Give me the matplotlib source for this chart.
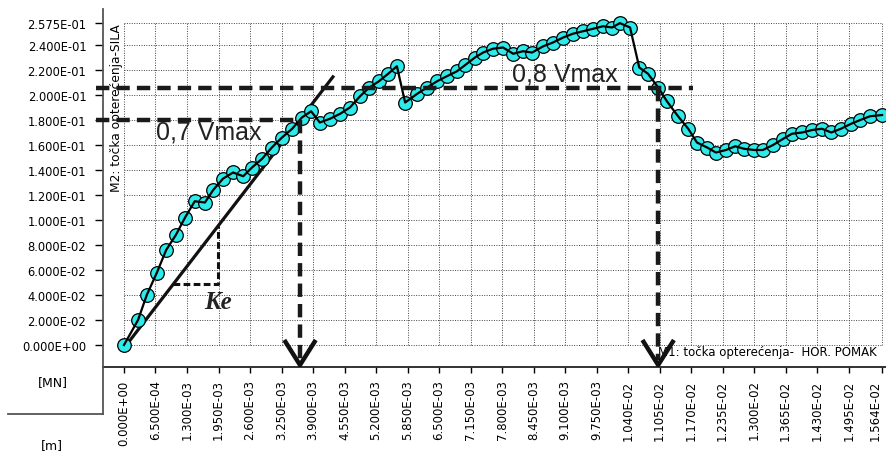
import numpy as np
import matplotlib
matplotlib.use('Agg')
import matplotlib.pyplot as plt
from matplotlib.lines import Line2D

# horizontalni pomak [m] i sila [MN], ocitano s dijagrama
pomak = [0.0, 0.00029, 0.00047, 0.00068, 0.00087, 0.00107, 0.00126, 0.00146,
         0.00167, 0.00184, 0.00204, 0.00225, 0.00246, 0.00264, 0.00285, 0.00305,
         0.00326, 0.00347, 0.00367, 0.00386, 0.00404, 0.00425, 0.00446, 0.00466,
         0.00487, 0.00506, 0.00526, 0.00545, 0.00563, 0.00580, 0.00605, 0.00625,
         0.00646, 0.00666, 0.00687, 0.00704, 0.00724, 0.00741, 0.00761, 0.00782,
         0.00803, 0.00823, 0.00842, 0.00865, 0.00885, 0.00906, 0.00926, 0.00947,
         0.00968, 0.00988, 0.01007, 0.01023, 0.01044, 0.01063, 0.01081, 0.01102,
         0.01120, 0.01143, 0.01164, 0.01182, 0.01203, 0.01221, 0.01242, 0.01261,
         0.01279, 0.01300, 0.01318, 0.01339, 0.01360, 0.01378, 0.01399, 0.01420,
         0.01440, 0.01459, 0.01479, 0.01500, 0.01519, 0.01539, 0.01564]
sila = [0.0, 0.020, 0.040, 0.058, 0.076, 0.088, 0.102, 0.115,
        0.114, 0.124, 0.133, 0.138, 0.135, 0.142, 0.149, 0.158,
        0.166, 0.173, 0.182, 0.187, 0.178, 0.181, 0.185, 0.190,
        0.199, 0.206, 0.211, 0.217, 0.223, 0.194, 0.201, 0.206,
        0.211, 0.215, 0.219, 0.224, 0.230, 0.234, 0.237, 0.238,
        0.233, 0.235, 0.234, 0.239, 0.242, 0.246, 0.249, 0.251,
        0.253, 0.255, 0.254, 0.2575, 0.254, 0.222, 0.217, 0.206,
        0.195, 0.183, 0.173, 0.162, 0.158, 0.154, 0.156, 0.159,
        0.157, 0.156, 0.156, 0.160, 0.165, 0.169, 0.170, 0.172,
        0.173, 0.170, 0.173, 0.177, 0.180, 0.183, 0.184]

x_ticks = [0.0, 0.00065, 0.0013, 0.00195, 0.0026, 0.00325, 0.0039, 0.00455,
           0.0052, 0.00585, 0.0065, 0.00715, 0.0078, 0.00845, 0.0091, 0.00975,
           0.0104, 0.01105, 0.0117, 0.01235, 0.013, 0.01365, 0.0143, 0.01495,
           0.01564]
y_ticks = [0.0, 0.02, 0.04, 0.06, 0.08, 0.10, 0.12, 0.14, 0.16, 0.18, 0.20,
           0.22, 0.24, 0.2575]

# pravac elasticne krutosti Ke
ke_x = [0.00005, 0.00431]
ke_y = [0.0, 0.2145]

v_max = max(sila)


def presjek(x, y, razina, od=0):
    for i in range(od, len(y) - 1):
        if (y[i] - razina) * (y[i + 1] - razina) <= 0 and y[i] != y[i + 1]:
            t = (razina - y[i]) / (y[i + 1] - y[i])
            return x[i] + t * (x[i + 1] - x[i])
    return None


fig = plt.figure(figsize=(8.86, 4.52), dpi=100)
ax = fig.add_axes([103 / 886, 84 / 452, 783 / 886, 358 / 452])
ax.set_xlim(-0.000433, 0.01572)
ax.set_ylim(-0.0176, 0.2688)

# mreza
ax.hlines(y_ticks, 0, x_ticks[-1], colors='#444444', linewidth=0.7,
          linestyles=(0, (1, 1.5)), zorder=0)
ax.vlines(x_ticks, 0, y_ticks[-1], colors='#444444', linewidth=0.7,
          linestyles=(0, (1, 1.5)), zorder=0)

# krivulja
ax.plot(pomak, sila, linestyle='none', marker='o', markersize=9.8,
        markerfacecolor='#2FEAEA', markeredgecolor='black', markeredgewidth=0.9,
        zorder=3)
ax.plot(pomak, sila, color='black', linewidth=1.6, zorder=4)

# Ke
k = (ke_y[1] - ke_y[0]) / (ke_x[1] - ke_x[0])
ax.plot(ke_x, ke_y, color='#111111', linewidth=2.3, zorder=2)
y_h, x_v = 0.0488, 0.00194
x_h = ke_x[0] + y_h / k
ax.plot([x_h, x_v, x_v], [y_h, y_h, k * (x_v - ke_x[0])], color='#111111',
        linewidth=2.2, dashes=(2.2, 1.1), zorder=2)
ax.text(0.00194, 0.0345, 'Ke', fontfamily='Liberation Serif', fontsize=18,
        fontweight='bold', fontstyle='italic', ha='center', va='center',
        color='#222222')

# 0,7 i 0,8 Vmax
tip_y = -0.016
arm_w, arm_h = 0.0003, 0.0185
i_max = int(np.argmax(sila))
for udio, od, kraj in [(0.7, 0, None), (0.8, i_max, 0.01174)]:
    razina = udio * v_max
    xc = presjek(pomak, sila, razina, od)
    x_end = kraj if kraj is not None else xc + 0.00002
    ax.plot([-0.00058, x_end], [razina, razina], color='#1a1a1a', linewidth=3.2,
            dashes=(3.0, 1.6), clip_on=False, zorder=5)
    ax.plot([xc, xc], [razina, tip_y + 0.004], color='#1a1a1a', linewidth=3.2,
            dashes=(3.0, 1.6), zorder=5)
    ax.plot([xc - arm_w, xc, xc + arm_w], [tip_y + arm_h, tip_y, tip_y + arm_h],
            color='#111111', linewidth=3.2, solid_joinstyle='miter', zorder=6)

ax.text(0.00175, 0.1704, '0,7 Vmax', fontfamily='Liberation Sans', fontsize=18,
        ha='center', va='center', color='#222222')
ax.text(0.0091, 0.2168, '0,8 Vmax', fontfamily='Liberation Sans', fontsize=18,
        ha='center', va='center', color='#222222')

# natpisi osi
ax.text(-0.00015, 0.2575, 'M2: točka opterećenja-SILA', rotation=90,
        fontsize=8.8, ha='center', va='top', zorder=1)
ax.text(0.01552, -0.0056, 'M1: točka opterećenja-  HOR. POMAK', fontsize=8.5,
        ha='right', va='center', zorder=1)

ax.set_xticks(x_ticks)
ax.set_xticklabels(['%.3E' % v for v in x_ticks], rotation=90, fontsize=8.5)
ax.get_xticklabels()[-1].set_horizontalalignment('right')
ax.set_yticks(y_ticks)
ax.set_yticklabels(['%.3E' % v for v in y_ticks], fontsize=8.3)
ax.tick_params(axis='x', direction='out', length=4, width=1, pad=5)
ax.tick_params(axis='y', direction='out', length=6, width=1, pad=6)

for s in ['top', 'right']:
    ax.spines[s].set_visible(False)
ax.spines['left'].set_color('#555555')
ax.spines['left'].set_linewidth(1.3)
ax.spines['bottom'].set_color('#222222')
ax.spines['bottom'].set_linewidth(1.3)

# produzetak lijeve osi i okvir ispod
fig.add_artist(Line2D([103 / 886, 103 / 886], [1 - 415 / 452, 84 / 452],
                      color='#555555', linewidth=1.3))
fig.add_artist(Line2D([8 / 886, 103 / 886], [1 - 415 / 452, 1 - 415 / 452],
                      color='#555555', linewidth=1.3))
fig.text(53 / 886, 1 - 383 / 452, '[MN]', fontsize=9, ha='center', va='center')
fig.text(52 / 886, 1 - 446 / 452, '[m]', fontsize=9, ha='center', va='center')

fig.savefig('out.png', dpi=100)
plt.close(fig)
